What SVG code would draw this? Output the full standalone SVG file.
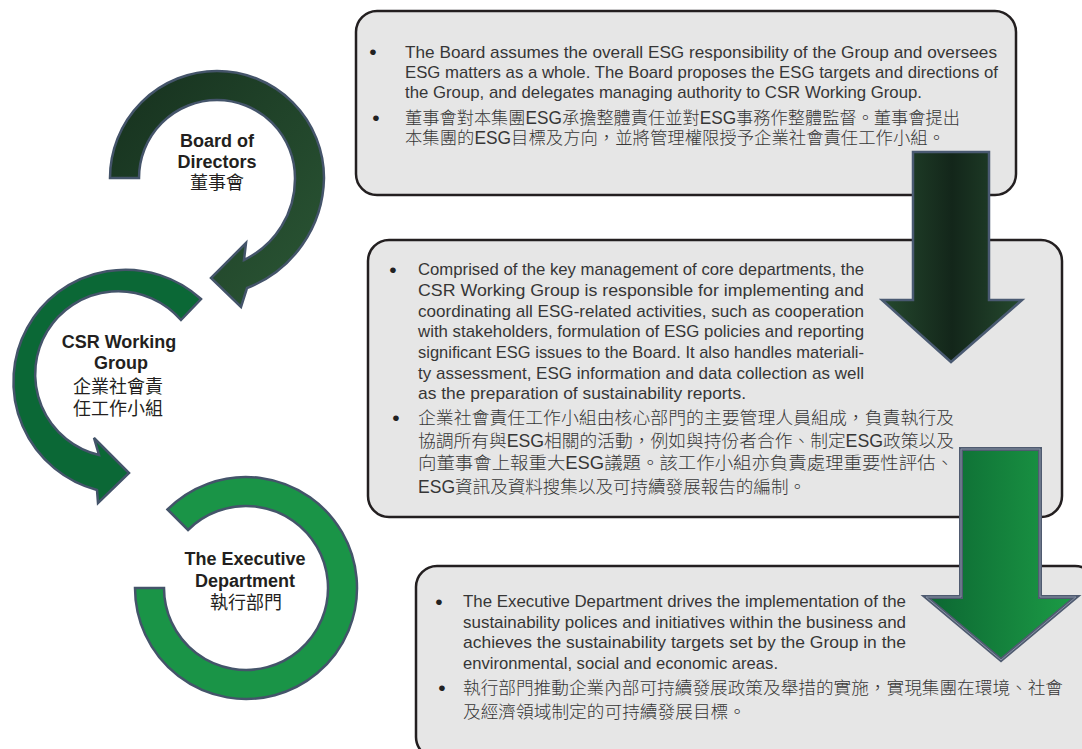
<svg xmlns="http://www.w3.org/2000/svg" width="1082" height="749" viewBox="0 0 1082 749">
<defs>
<linearGradient id="gBoard" x1="0" y1="0" x2="1" y2="1">
<stop offset="0" stop-color="#16301e"/><stop offset="1" stop-color="#2b5735"/>
</linearGradient>
<linearGradient id="gA1" x1="0" y1="0" x2="1" y2="0">
<stop offset="0" stop-color="#25492e"/><stop offset="0.5" stop-color="#13261a"/><stop offset="1" stop-color="#25492e"/>
</linearGradient>
<linearGradient id="gA2" x1="0" y1="0" x2="1" y2="0">
<stop offset="0" stop-color="#0c6632"/><stop offset="1" stop-color="#1c9c46"/>
</linearGradient>
<style>
.ring{stroke:#44546a;stroke-width:2.5;stroke-linejoin:miter}
.box{fill:#e6e6e6;stroke:#231f20;stroke-width:2.5}
.nt{font-family:"Liberation Sans",Arial,sans-serif;font-weight:bold;font-size:18px;fill:#231f20;text-anchor:middle}
.nc{font-family:"Liberation Sans","Noto Sans CJK TC","Noto Sans CJK SC",sans-serif;font-size:18px;fill:#231f20;text-anchor:middle}
.en{font-family:"Liberation Sans",Arial,sans-serif;font-size:17px;fill:#363636}
.zh{font-family:"Liberation Sans","Noto Sans CJK TC","Noto Sans CJK SC",sans-serif;font-size:17.6px;font-weight:300;fill:#363636}
.bu{font-family:"Liberation Sans",Arial,sans-serif;font-size:21px;fill:#222222;text-anchor:middle}
</style>
</defs>
<rect width="1082" height="749" fill="#ffffff"/>

<g id="node-board">
<path class="ring" fill="url(#gBoard)" d="M 110 178 A 107 107 0 0 1 324 178 A 120 120 0 0 1 247 288 L 241 307 L 211 278 L 246 243 L 244 260 A 90 90 0 0 0 295 178 A 78 78 0 0 0 139 178 Z"/>
<text class="nt" x="217" y="147">Board of</text>
<text class="nt" x="217" y="168">Directors</text>
<text class="nc" x="217" y="189">董事會</text>
</g>

<g id="node-csr">
<path class="ring" fill="#0b6836" d="M 181 320 L 201 299 A 112 112 0 1 0 97 490 L 98 503 L 129 473 L 94 438 L 99 455 A 83 83 0 1 1 181 320 Z"/>
<text class="nt" x="119" y="348">CSR Working</text>
<text class="nt" x="121" y="369">Group</text>
<text class="nc" x="118" y="393">企業社會責</text>
<text class="nc" x="118" y="415">任工作小組</text>
</g>

<g id="node-exec">
<path class="ring" fill="#1a9447" d="M 135 588 A 111 111 0 1 0 167.5 509.5 L 188 530 A 82 82 0 1 1 164 588 Z"/>
<text class="nt" x="245" y="565">The Executive</text>
<text class="nt" x="245" y="587">Department</text>
<text class="nc" x="246" y="609">執行部門</text>
</g>

<g id="box-board">
<rect class="box" x="356" y="11" width="660" height="184" rx="21"/>
<text class="bu" x="373" y="59">•</text>
<text class="en" x="405" y="57.5" textLength="592" lengthAdjust="spacingAndGlyphs">The Board assumes the overall ESG responsibility of the Group and oversees</text>
<text class="en" x="405" y="78" textLength="593" lengthAdjust="spacingAndGlyphs">ESG matters as a whole. The Board proposes the ESG targets and directions of</text>
<text class="en" x="405" y="98" textLength="517" lengthAdjust="spacingAndGlyphs">the Group, and delegates managing authority to CSR Working Group.</text>
<text class="bu" x="376" y="125">•</text>
<text class="zh" x="405" y="124" textLength="555" lengthAdjust="spacingAndGlyphs">董事會對本集團ESG承擔整體責任並對ESG事務作整體監督。董事會提出</text>
<text class="zh" x="405" y="144" textLength="540" lengthAdjust="spacingAndGlyphs">本集團的ESG目標及方向，並將管理權限授予企業社會責任工作小組。</text>
</g>

<g id="box-csr">
<rect class="box" x="368" y="240" width="694" height="277" rx="21"/>
<text class="bu" x="393" y="276.5">•</text>
<text class="en" x="418" y="275" textLength="446" lengthAdjust="spacingAndGlyphs">Comprised of the key management of core departments, the</text>
<text class="en" x="418" y="296" textLength="446" lengthAdjust="spacingAndGlyphs">CSR Working Group is responsible for implementing and</text>
<text class="en" x="418" y="316.5" textLength="446" lengthAdjust="spacingAndGlyphs">coordinating all ESG-related activities, such as cooperation</text>
<text class="en" x="418" y="337" textLength="446" lengthAdjust="spacingAndGlyphs">with stakeholders, formulation of ESG policies and reporting</text>
<text class="en" x="418" y="358" textLength="446" lengthAdjust="spacingAndGlyphs">significant ESG issues to the Board. It also handles materiali-</text>
<text class="en" x="418" y="378.5" textLength="446" lengthAdjust="spacingAndGlyphs">ty assessment, ESG information and data collection as well</text>
<text class="en" x="418" y="399" textLength="328" lengthAdjust="spacingAndGlyphs">as the preparation of sustainability reports.</text>
<text class="bu" x="396" y="425">•</text>
<text class="zh" x="418" y="424" textLength="536" lengthAdjust="spacingAndGlyphs">企業社會責任工作小組由核心部門的主要管理人員組成，負責執行及</text>
<text class="zh" x="418" y="446.5" textLength="536" lengthAdjust="spacingAndGlyphs">協調所有與ESG相關的活動，例如與持份者合作、制定ESG政策以及</text>
<text class="zh" x="418" y="469" textLength="536" lengthAdjust="spacingAndGlyphs">向董事會上報重大ESG議題。該工作小組亦負責處理重要性評估、</text>
<text class="zh" x="418" y="493" textLength="388" lengthAdjust="spacingAndGlyphs">ESG資訊及資料搜集以及可持續發展報告的編制。</text>
</g>

<g id="box-exec">
<rect class="box" x="416" y="566" width="680" height="192" rx="21"/>
<text class="bu" x="439" y="608.5">•</text>
<text class="en" x="463" y="607" textLength="443" lengthAdjust="spacingAndGlyphs">The Executive Department drives the implementation of the</text>
<text class="en" x="463" y="628" textLength="443" lengthAdjust="spacingAndGlyphs">sustainability polices and initiatives within the business and</text>
<text class="en" x="463" y="648" textLength="443" lengthAdjust="spacingAndGlyphs">achieves the sustainability targets set by the Group in the</text>
<text class="en" x="463" y="669" textLength="315" lengthAdjust="spacingAndGlyphs">environmental, social and economic areas.</text>
<text class="bu" x="442" y="695">•</text>
<text class="zh" x="463" y="694" textLength="600" lengthAdjust="spacingAndGlyphs">執行部門推動企業內部可持續發展政策及舉措的實施，實現集團在環境、社會</text>
<text class="zh" x="463" y="718" textLength="283" lengthAdjust="spacingAndGlyphs">及經濟領域制定的可持續發展目標。</text>
</g>

<g id="connectors">
<path fill="url(#gA1)" stroke="#4a5a72" stroke-width="2.5" d="M 913 152 L 989 152 L 989 300 L 1022 300 L 951 362 L 882 300 L 913 300 Z"/>
<path fill="url(#gA2)" stroke="#4f5b70" stroke-width="4" d="M 961 449 L 1040 449 L 1040 597 L 1076 597 L 1001 660 L 926 597 L 961 597 Z"/>
<path fill="none" stroke="#8792a4" stroke-width="1" d="M 961 449 L 1040 449 L 1040 597 L 1076 597 L 1001 660 L 926 597 L 961 597 Z"/>
</g>
</svg>
